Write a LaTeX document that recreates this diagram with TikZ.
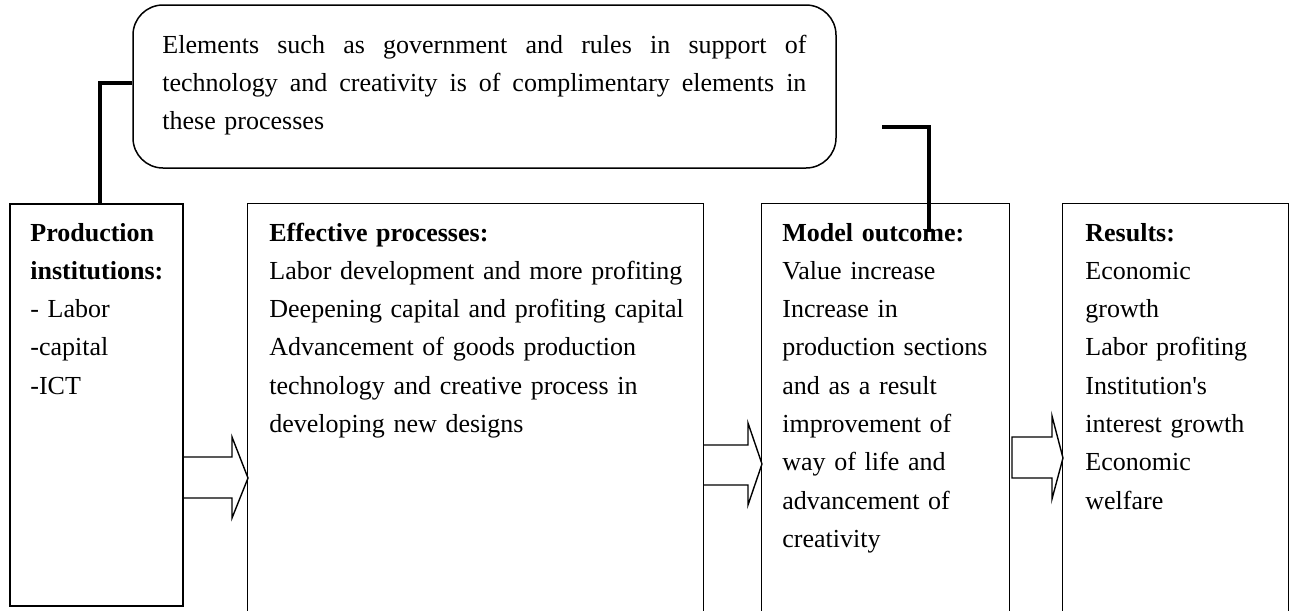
\documentclass[tikz,border=0pt]{standalone}
\usepackage{fontspec}
\setmainfont{Liberation Serif}
\usetikzlibrary{calc}
\begin{document}
\begin{tikzpicture}[x=0.5pt,y=-0.5pt,
  box/.style={draw, line width=0.75pt, inner sep=0},
  openbox/.style={inner sep=0},
  frame/.style={line width=0.75pt},
  txt/.style={anchor=base west, inner sep=0, align=left, font=\fontsize{13}{19.15}\selectfont},
  conn/.style={line width=2.4pt},
  barrow/.style={line width=0.7pt, line join=miter}]
\useasboundingbox (0,0) rectangle (1292,611);

% callout
\node[box, rounded corners=15pt, minimum width=351.5pt, minimum height=81.5pt] (call) at (484.5,86.5) {};
\node[txt, text width=322pt] (t0) at (162,53) {\makebox[322pt][s]{Elements\hfill such\hfill as\hfill government\hfill and\hfill rules\hfill in\hfill support\hfill of}\\
\makebox[322pt][s]{technology\hfill and\hfill creativity\hfill is\hfill of\hfill complimentary\hfill elements\hfill in}\\
these processes};

% boxes
\node[box, minimum width=86.5pt, minimum height=201pt] (b1) at (96.5,405) {};
\node[openbox, minimum width=227.5pt, minimum height=203.5pt] (b2) at (475.5,407.5) {};
\node[openbox, minimum width=123.5pt, minimum height=203.5pt] (b3) at (885.5,407.5) {};
\node[openbox, minimum width=112.5pt, minimum height=203.5pt] (b4) at (1175.5,407.5) {};
\draw[frame] (b2.south west) -- (b2.north west) -- (b2.north east) -- (b2.south east);
\draw[frame] (b3.south west) -- (b3.north west) -- (b3.north east) -- (b3.south east);
\draw[frame] (b4.south west) -- (b4.north west) -- (b4.north east) -- (b4.south east);

% texts
\node[txt, text width=75pt] (t1) at (30,241) {\textbf{Production}\\\textbf{institutions:}\\- Labor\\-capital\\-ICT};
\node[txt, text width=215pt] (t2) at (269,241) {\textbf{Effective processes:}\\Labor development and more profiting\\Deepening capital and profiting capital\\Advancement of goods production\\technology and creative process in\\developing new designs};
\node[txt, text width=112pt] (t3) at (782,241) {\textbf{Model outcome:}\\Value increase\\Increase in\\production sections\\and as a result\\improvement of\\way of life and\\advancement of\\creativity};
\node[txt, text width=100pt] (t4) at (1085,241) {\textbf{Results:}\\Economic\\growth\\Labor profiting\\Institution\textquotesingle s\\interest growth\\Economic\\welfare};

% block arrows
\draw[barrow] (183,457) -- (232,457) -- (232,437) -- (248,478) -- (232,518) -- (232,498) -- (183,498);
\draw[barrow] (703,445) -- (748,445) -- (748,423) -- (762,464) -- (748,505) -- (748,485) -- (703,485);
\draw[barrow] (1012,437) -- (1052,437) -- (1052,416) -- (1063,458) -- (1052,499) -- (1052,478) -- (1012,478) -- cycle;

% connectors
\draw[conn] ([yshift=1.75pt]call.west) -| ([xshift=1.75pt]b1.north);
\coordinate (r1) at (882,127);
\coordinate (r2) at (929,232);
\draw[conn] (r1) -| (r2);
\end{tikzpicture}
\end{document}
